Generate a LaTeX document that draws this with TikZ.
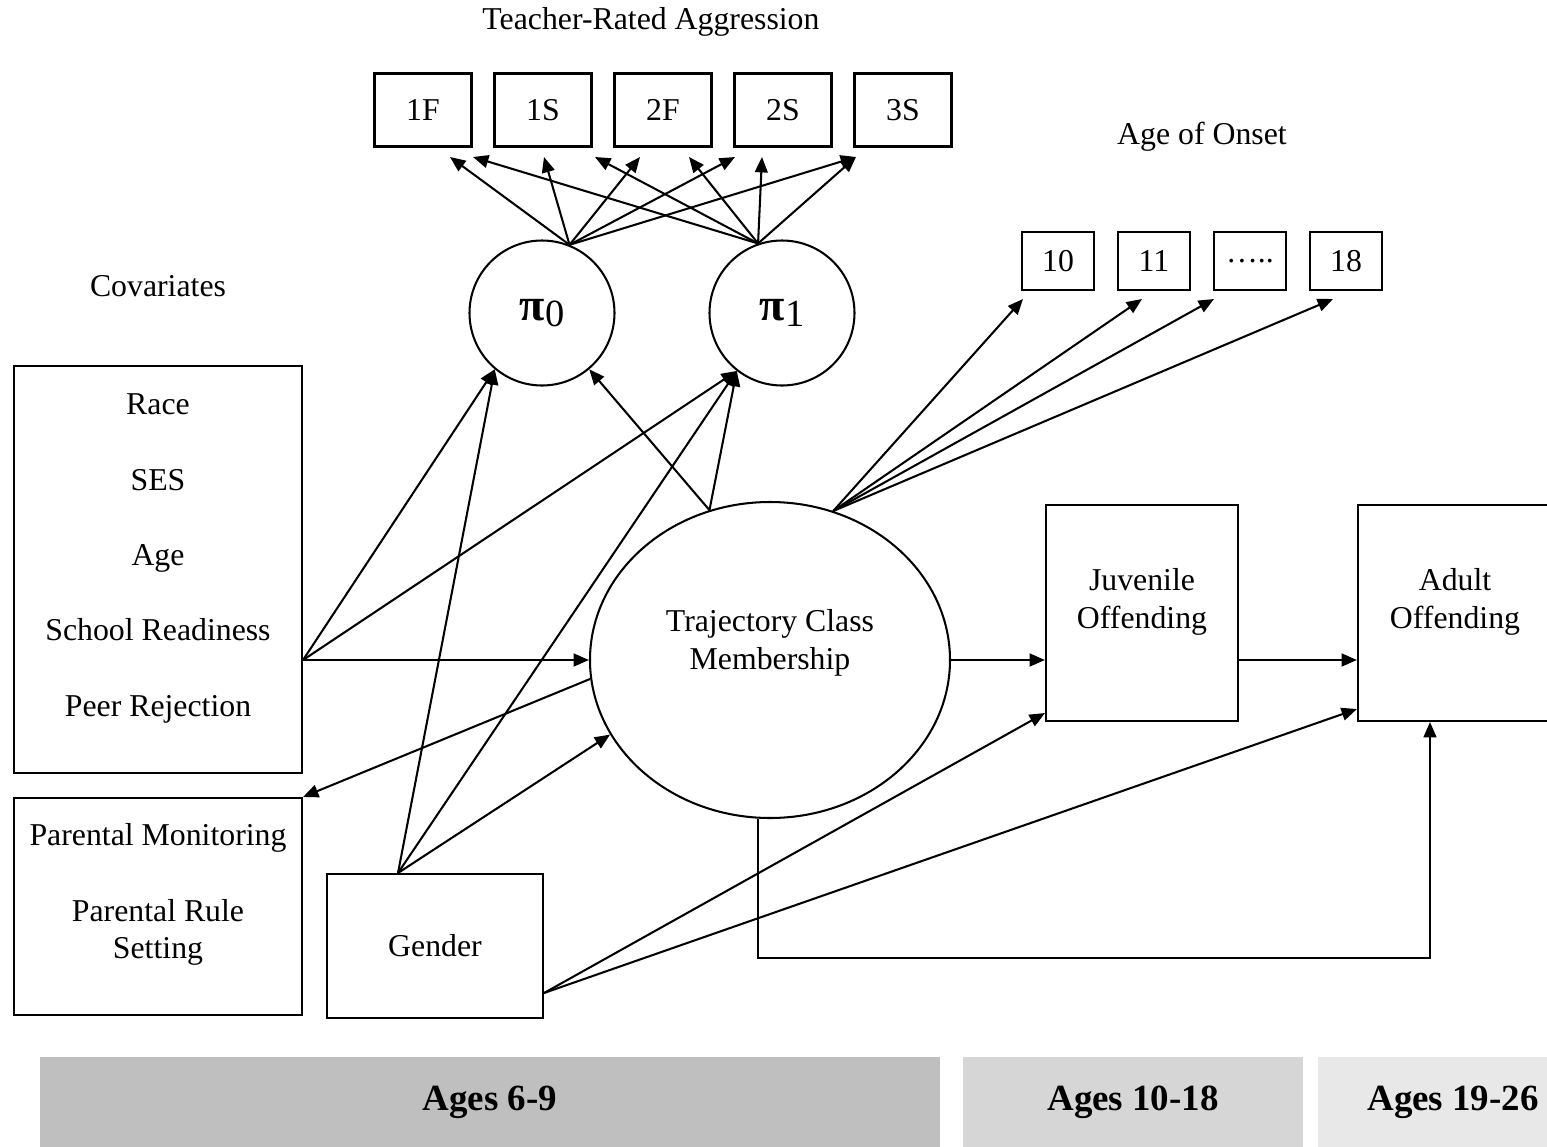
\documentclass[tikz,border=0pt]{standalone}
\usepackage{fontspec}
\setmainfont{Liberation Serif}
\usetikzlibrary{shapes.geometric,arrows.meta}
\newcommand{\upx}{0.39pt}
\newcommand{\fac}[1]{{\fontsize{18}{18}\selectfont\bfseries π}\raisebox{-0.55ex}{\fontsize{15}{15}\selectfont #1}}
\tikzset{
box/.style={draw, line width=0.8pt, inner sep=0pt, align=center,
    font=\fontsize{12.4}{14.6}\selectfont},
lat/.style={draw, circle, line width=0.8pt, minimum size=145*\upx, inner sep=0pt},
arr/.style={line width=0.8pt, -{Triangle[length=6pt,width=5pt]}},
lbl/.style={font=\fontsize{12.4}{14.6}\selectfont},
band/.style={inner sep=0pt, minimum height=90*\upx,
    font=\fontsize{14.4}{17}\selectfont\bfseries}
}

\begin{document}
\begin{tikzpicture}[x=\upx, y=-\upx]
\useasboundingbox (0,0) rectangle (1547,1147);
% age bands
\node[band, fill=black!25, minimum width=900*\upx] (b1) at (490,1102) {Ages 6-9};
\node[band, fill=black!16, minimum width=340*\upx] (b2) at (1133,1102) {Ages 10-18};
\node[band, fill=black!9, minimum width=270*\upx] (b3) at (1453,1102) {Ages 19-26};

\node[lbl] (tra) at (651,22) {Teacher-Rated Aggression};
\node[lbl] (aoo) at (1202,137) {Age of Onset};
\node[lbl] (cvl) at (158,286) {Covariates};

\foreach \t [count=\i] in {1F,1S,2F,2S,3S}
  \node[box, minimum width=97*\upx, minimum height=73*\upx] (a\i) at (303+120*\i,110) {\t};
\foreach \t [count=\i] in {10,11,…..,18}
  \node[box, minimum width=72*\upx, minimum height=58*\upx] (o\i) at (962+96*\i,261) {\t};

\node[lat] (p0) at (542,313) {\fac{0}};
\node[lat] (p1) at (782,313) {\fac{1}};

\node[box, minimum width=288*\upx, minimum height=407*\upx,
  label={[lbl, align=center, yshift=11*\upx]center:{Race\\[14.8pt]SES\\[14.8pt]Age\\[14.8pt]School Readiness\\[14.8pt]Peer Rejection}}] (cov) at (158,569.5) {};
\node[box, minimum width=288*\upx, minimum height=217*\upx,
  label={[lbl, align=center, yshift=12*\upx]center:{Parental Monitoring\\[14.8pt]Parental Rule\\Setting}}] (par) at (158,906.5) {};
\node[box, minimum width=216*\upx, minimum height=144*\upx] (gen) at (435,946) {Gender};
\node[draw, ellipse, line width=0.8pt, inner sep=0pt, minimum width=360*\upx, minimum height=316*\upx,
  label={[lbl, align=center, yshift=17*\upx]center:{Trajectory Class\\Membership}}] (tcm) at (770,660) {};
\node[box, minimum width=192*\upx, minimum height=216*\upx,
  label={[lbl, align=center, yshift=11*\upx]center:{Juvenile\\Offending}}] (juv) at (1142,613) {};
\node[box, minimum width=194*\upx, minimum height=216*\upx,
  label={[lbl, align=center, yshift=11*\upx]center:{Adult\\Offending}}] (adu) at (1455,613) {};

% loadings on the aggression scores
\foreach \n/\x in {1/450,2/544,3/640,4/735,5/856} \coordinate (u\n) at (\x,157);
\foreach \n/\x in {1/473,2/595,3/689,4/762,5/856} \coordinate (v\n) at (\x,157);
\foreach \n in {1,...,5} {
  \draw[arr] (p0.68) -- (u\n);
  \draw[arr] (p1.109) -- (v\n);
}
% age of onset
\foreach \n/\x in {1/1023,2/1142,3/1214,4/1333} {
  \coordinate (w\n) at (\x,299);
  \draw[arr] (tcm.67) -- (w\n);
}

\coordinate (cv) at (cov.east |- tcm.west);
\coordinate (gn) at ([xshift=-37*\upx]gen.north);
\coordinate (ge) at ([yshift=-47*\upx]gen.east);

\draw[arr] (cv) -- (tcm.west);
\draw[arr] (cv) -- (p0.230);
\draw[arr] (cv) -- (p1.232);
\draw[arr] (gn) -- (p0.230);
\draw[arr] (gn) -- (p1.232);
\draw[arr] (gn) -- (tcm.205);
\draw[arr] (tcm.112) -- (p0.310);
\draw[arr] (tcm.112) -- (p1.232);
\draw[arr] (tcm.186) -- (par.north east);
\draw[arr] (tcm.east) -- (tcm.east -| juv.west);
\draw[arr] (juv.east |- tcm.east) -- (adu.west |- tcm.east);
\draw[arr] (ge) -- ([yshift=9*\upx]juv.south west);
\draw[arr] (ge) -- ([yshift=13*\upx]adu.south west);
\draw[arr] ([xshift=-12*\upx]tcm.south) -- ++(0,139) -| ([xshift=-25*\upx]adu.south);
\end{tikzpicture}
\end{document}
